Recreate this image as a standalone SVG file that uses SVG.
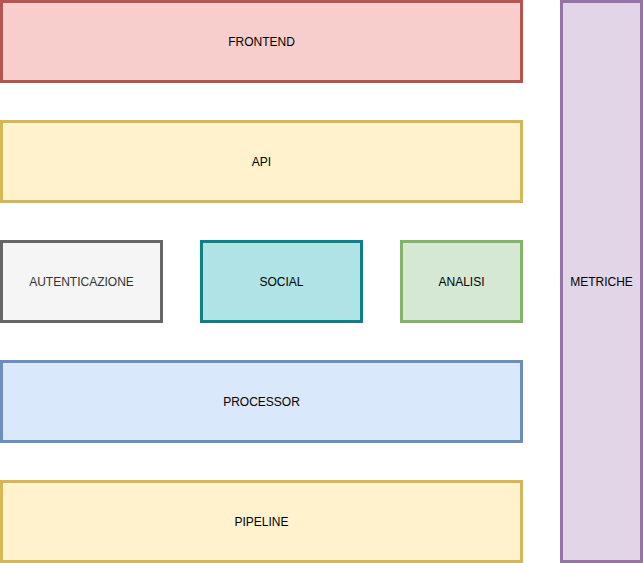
<svg xmlns="http://www.w3.org/2000/svg" width="643" height="563" viewBox="0 0 643 563">
<style>
rect{stroke-width:3}
text{font-family:"Liberation Sans",Arial,Helvetica,sans-serif;font-size:12px;fill:#000;text-anchor:middle;dominant-baseline:central}
.red{fill:#f8cecc;stroke:#b85450}
.yel{fill:#fff2cc;stroke:#d6b656}
.grey{fill:#f5f5f5;stroke:#666666}
.teal{fill:#b0e3e6;stroke:#0e8088}
.green{fill:#d5e8d4;stroke:#82b366}
.blue{fill:#dae8fc;stroke:#6c8ebf}
.purple{fill:#e1d5e7;stroke:#9673a6}
</style>
<rect width="643" height="563" fill="#ffffff" stroke="none"/>
<g id="frontend"><rect class="red" x="1.5" y="1.5" width="520" height="80"/><text x="261.5" y="41.5">FRONTEND</text></g>
<g id="api"><rect class="yel" x="1.5" y="121.5" width="520" height="80"/><text x="261.5" y="161.5">API</text></g>
<g id="autenticazione"><rect class="grey" x="1.5" y="241.5" width="160" height="80"/><text x="81.5" y="281.5" fill="#333333" style="fill:#333333">AUTENTICAZIONE</text></g>
<g id="social"><rect class="teal" x="201.5" y="241.5" width="160" height="80"/><text x="281.5" y="281.5">SOCIAL</text></g>
<g id="analisi"><rect class="green" x="401.5" y="241.5" width="120" height="80"/><text x="461.5" y="281.5">ANALISI</text></g>
<g id="processor"><rect class="blue" x="1.5" y="361.5" width="520" height="80"/><text x="261.5" y="401.5">PROCESSOR</text></g>
<g id="pipeline"><rect class="yel" x="1.5" y="481.5" width="520" height="80"/><text x="261.5" y="521.5">PIPELINE</text></g>
<g id="metriche"><rect class="purple" x="561.5" y="1.5" width="80" height="560"/><text x="601.5" y="281.5">METRICHE</text></g>
<g id="connectors"></g>
</svg>
